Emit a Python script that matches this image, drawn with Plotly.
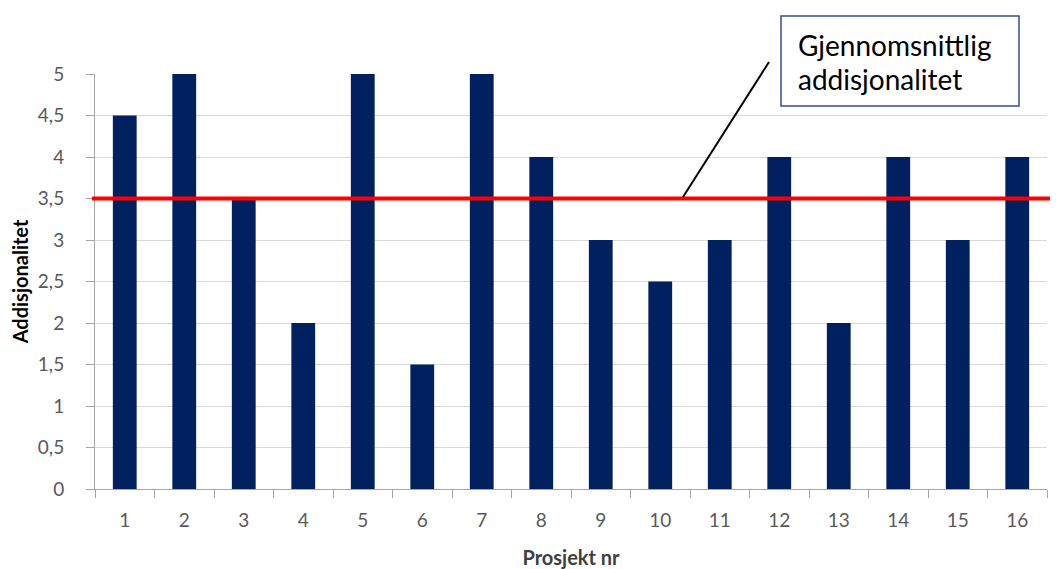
import plotly.graph_objects as go

projects = [str(i) for i in range(1, 17)]
values = [4.5, 5, 3.5, 2, 5, 1.5, 5, 4, 3, 2.5, 3, 4, 2, 4, 3, 4]
average = 3.5
y_ticks = [0, 0.5, 1, 1.5, 2, 2.5, 3, 3.5, 4, 4.5, 5]
y_tick_labels = ["0", "0,5", "1", "1,5", "2", "2,5", "3", "3,5", "4", "4,5", "5"]
label_lines = ["Gjennomsnittlig", "addisjonalitet"]

OFF = 8  # default page body margin
W, H = 1058 - OFF, 569 - OFF
L, R, T, B = 95, 1047, 74, 489  # plot area in window pixels
pw, ph = R - L, B - T
def px(x):
    return (x - L) / pw
def py(y):
    return (B - y) / ph

FONT = "Lato"
GRAY = "#595959"

fig = go.Figure()
fig.add_trace(go.Bar(x=projects, y=values, marker=dict(color="#002060", line=dict(width=0)),
                     width=0.4, showlegend=False))

fig.update_layout(
    width=W, height=H,
    margin=dict(l=L - OFF, r=1058 - R, t=T - OFF, b=569 - B, autoexpand=False),
    paper_bgcolor="white", plot_bgcolor="white",
    font=dict(family=FONT, color=GRAY, size=19),
    xaxis=dict(type="category", automargin=False, showgrid=False, showline=True,
               linecolor="#A6A6A6", linewidth=1,
               ticks="outside", ticklen=8, tickcolor="#A6A6A6", tickson="boundaries",
               tickfont=dict(size=19, color=GRAY), ticklabelstandoff=14,
               title=dict(text="<b>Prosjekt nr</b>", font=dict(size=20, color="#404040"), standoff=22)),
    yaxis=dict(range=[0, 5], automargin=False, tickvals=y_ticks, ticktext=y_tick_labels, showgrid=True,
               gridcolor="#D9D9D9", gridwidth=1, showline=True, linecolor="#A6A6A6", linewidth=1,
               ticks="outside", ticklen=8, tickcolor="#A6A6A6", zeroline=False,
               tickfont=dict(size=19, color=GRAY), ticklabelstandoff=18,
               title=dict(text="<b>Addisjonalitet</b>", font=dict(size=20, color="#000000"), standoff=8)),
    bargap=0.6,
)

# red average line
fig.add_shape(type="line", xref="paper", yref="y", x0=px(92), x1=px(1058), y0=average, y1=average,
              line=dict(color="#FF0000", width=4), layer="above")

# callout line
fig.add_shape(type="line", xref="paper", yref="paper", x0=px(683), y0=py(197), x1=px(769), y1=py(62),
              line=dict(color="#000000", width=2))

# callout box
fig.add_shape(type="rect", xref="paper", yref="paper", x0=px(781), x1=px(1019), y0=py(106), y1=py(16),
              line=dict(color="#2F4F8F", width=1.5), fillcolor="white")

for i, line in enumerate(label_lines):
    fig.add_annotation(xref="paper", yref="paper", x=px(796), y=py(45 + 34 * i), xanchor="left",
                       yanchor="middle", text=line, showarrow=False,
                       font=dict(family=FONT, size=28, color="#000000"))

fig.write_html("out.html")
